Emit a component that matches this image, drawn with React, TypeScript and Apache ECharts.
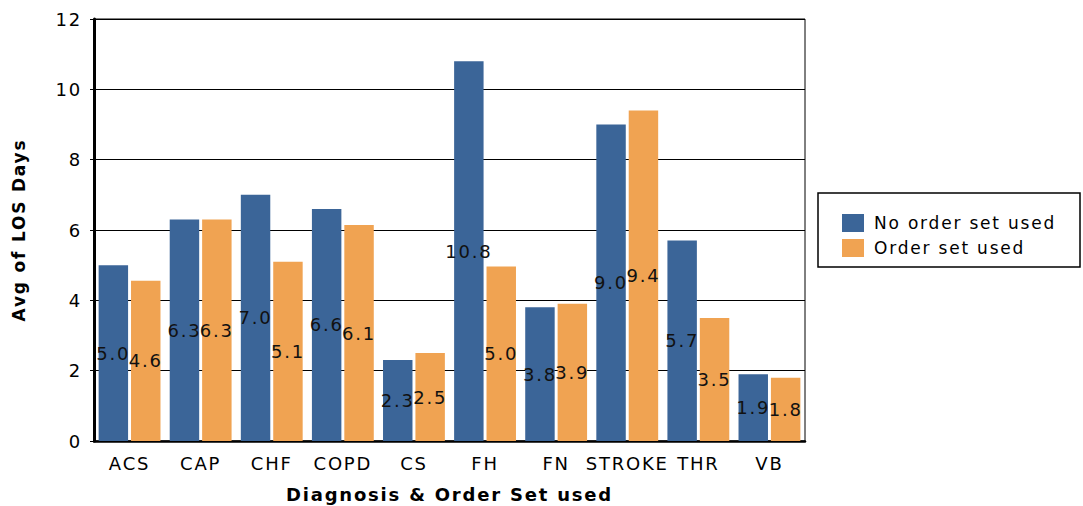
import React, { useEffect, useRef } from "react";
import * as echarts from "echarts";

const categories = ["ACS", "CAP", "CHF", "COPD", "CS", "FH", "FN", "STROKE", "THR", "VB"];
const noOrderSet = [5.0, 6.3, 7.0, 6.6, 2.3, 10.8, 3.8, 9.0, 5.7, 1.9];
const orderSet = [4.56, 6.3, 5.1, 6.14, 2.5, 4.96, 3.9, 9.4, 3.5, 1.8];
const seriesNames = ["No order set used", "Order set used"];
const yTicks = { min: 0, max: 12, interval: 2 };

const FONT = "'DejaVu Sans', Arial, Helvetica, sans-serif";

export default function App() {
  const ref = useRef<HTMLDivElement>(null);
  useEffect(() => {
    if (!ref.current) return;
    const chart = echarts.init(ref.current, undefined, { renderer: "svg" });
    const label = {
      show: true,
      position: "inside",
      color: "#111",
      fontSize: 18,
      fontFamily: FONT,
      formatter: (p: any) => Number(p.value).toFixed(1),
    };
    chart.setOption({
      animation: false,
      backgroundColor: "#fff",
      textStyle: { fontFamily: FONT },
      grid: {
        left: 94,
        right: 278,
        top: 19,
        bottom: 65,
        outerBoundsMode: "none",
        containLabel: false,
        show: true,
        borderColor: "#000",
        borderWidth: 1,
      },
      legend: {
        orient: "vertical",
        left: 837,
        top: 209,
        itemWidth: 22,
        itemHeight: 18,
        itemGap: 7,
        icon: "rect",
        textStyle: {
          fontSize: 17,
          lineHeight: 18,
          color: "#000",
          fontFamily: FONT,
          padding: [0, 0, 0, 5],
        },
        data: seriesNames,
      },
      graphic: [
        {
          type: "rect",
          shape: { x: 818, y: 193, width: 262, height: 74 },
          style: { fill: "none", stroke: "#000", lineWidth: 1.5 },
        },
      ],
      xAxis: {
        type: "category",
        data: categories,
        name: "Diagnosis & Order Set used",
        nameLocation: "middle",
        nameGap: 44,
        nameTextStyle: { fontSize: 18, fontWeight: "bold", color: "#000", fontFamily: FONT },
        axisLine: { lineStyle: { color: "#000", width: 2.5 } },
        axisTick: { show: false },
        axisLabel: { fontSize: 18, color: "#000", margin: 13, interval: 0, fontFamily: FONT },
      },
      yAxis: {
        type: "value",
        min: yTicks.min,
        max: yTicks.max,
        interval: yTicks.interval,
        name: "Avg of LOS Days",
        nameLocation: "middle",
        nameGap: 67,
        nameTextStyle: { fontSize: 17, fontWeight: "bold", color: "#000", fontFamily: FONT },
        axisLine: { show: true, lineStyle: { color: "#000", width: 3 } },
        axisTick: { show: true, length: 4, lineStyle: { color: "#000" } },
        axisLabel: { fontSize: 18, color: "#000", margin: 12, fontFamily: FONT },
        splitLine: { lineStyle: { color: "#000", width: 1 } },
      },
      series: [
        {
          name: seriesNames[0],
          type: "bar",
          data: noOrderSet,
          itemStyle: { color: "#3b6598" },
          barGap: "10%",
          barCategoryGap: "13%",
          label,
        },
        {
          name: seriesNames[1],
          type: "bar",
          data: orderSet,
          itemStyle: { color: "#f0a352" },
          label,
        },
      ],
    });
    return () => chart.dispose();
  }, []);
  return (
    <div
      ref={ref}
      style={{
        width: 1083,
        height: 506,
        position: "absolute",
        left: 0,
        top: 0,
        letterSpacing: "1.8px",
      }}
    />
  );
}
